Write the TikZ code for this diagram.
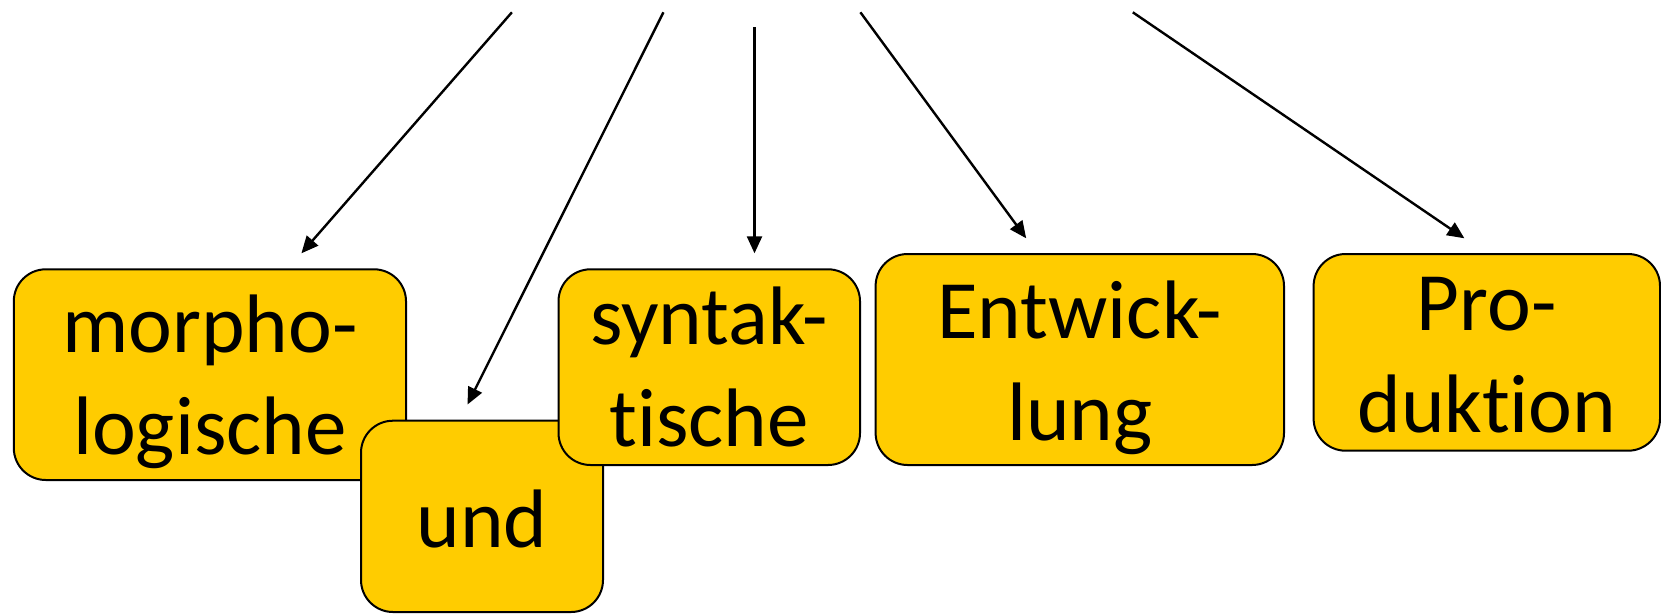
\documentclass[tikz,border=0pt]{standalone}
\usepackage{fontspec}
\setmainfont[Ligatures=NoCommon]{Carlito}
\usetikzlibrary{arrows.meta}
\definecolor{boxyellow}{RGB}{255,204,0}
\begin{document}
\begin{tikzpicture}[x=1pt,y=-1pt,
  tbox/.style={draw=black, line width=2pt, fill=boxyellow, rounded corners=32pt, inner sep=0pt},
  lbl/.style={font=\fontsize{83}{102}\selectfont, align=center, inner sep=0pt, anchor=base},
  arr/.style={line width=2.4pt, -{Triangle[length=17pt,width=15pt]}}]
\useasboundingbox (0,0) rectangle (1661,614);
% boxes and texts (anchor=base = baseline of the last line)
\node[tbox, minimum width=392.2pt, minimum height=210.7pt] (morph) at (209.9,374.65) {};
\node[lbl] (morphT) at (209.9,454) {morpho-\\logische};
\node[tbox, minimum width=242pt, minimum height=191.3pt] (und) at (482,516.35) {};
\node[lbl] (undT) at (482,547.7) {und};
\node[tbox, minimum width=301.5pt, minimum height=195.7pt] (syn) at (709.25,367.15) {};
\node[lbl] (synT) at (709.25,446.7) {syntak-\\tische};
\node[tbox, minimum width=408.4pt, minimum height=211pt] (entw) at (1079.8,359.5) {};
\node[lbl] (entwT) at (1079.8,440) {Entwick-\\lung};
\node[tbox, minimum width=346.4pt, minimum height=196.7pt] (prod) at (1486.8,352.35) {};
\node[lbl] (prodT) at (1486.8,432.3) {Pro-\\duktion};
% arrows
\coordinate (s1) at (511.9,12.3);  \coordinate (e1) at (301.4,253.3);
\coordinate (s2) at (663.4,12.3);  \coordinate (e2) at (467.5,404.5);
\coordinate (s3) at (754.5,27.3);  \coordinate (e3) at (754.5,253.3);
\coordinate (s4) at (860.4,12.3);  \coordinate (e4) at (1026.2,238.3);
\coordinate (s5) at (1132.8,12.3); \coordinate (e5) at (1464.4,238.3);
\draw[arr] (s1) -- (e1);
\draw[arr] (s2) -- (e2);
\draw[arr] (s3) -- (e3);
\draw[arr] (s4) -- (e4);
\draw[arr] (s5) -- (e5);
\end{tikzpicture}
\end{document}
